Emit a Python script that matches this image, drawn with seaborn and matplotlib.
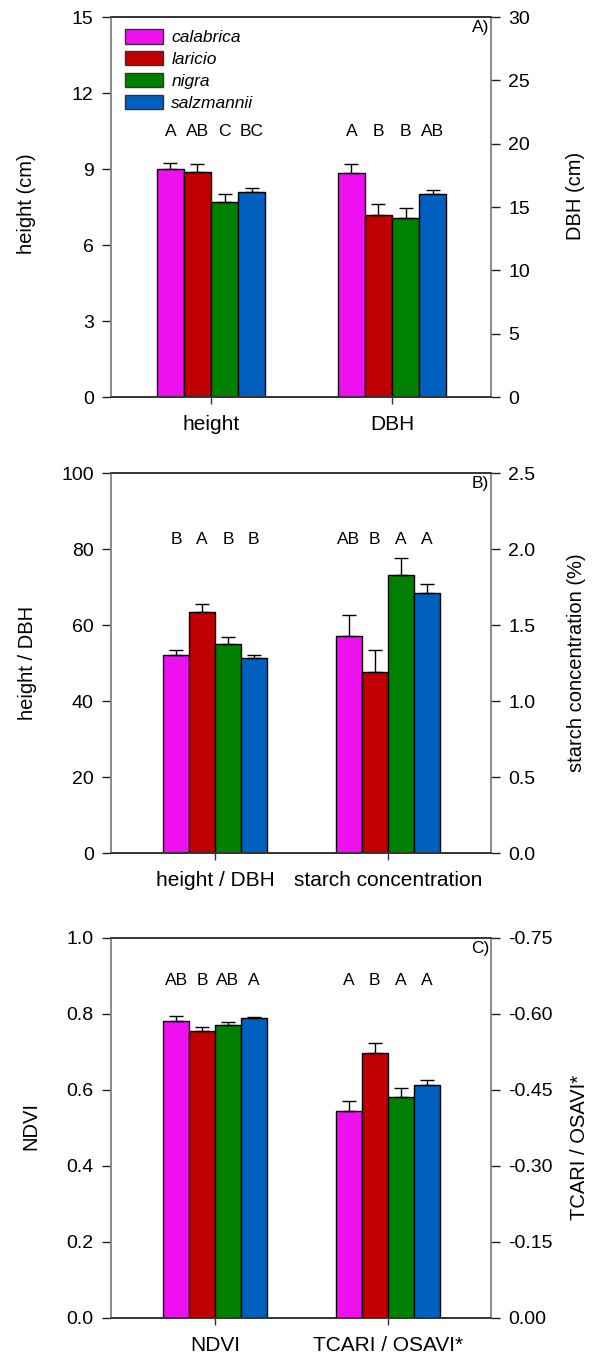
import numpy as np
import pandas as pd
import matplotlib
matplotlib.use("Agg")
import matplotlib.pyplot as plt
from matplotlib.patches import Patch
from matplotlib.ticker import FixedLocator, FormatStrFormatter
import seaborn as sns

# ---------------- data ----------------
species = ["calabrica", "laricio", "nigra", "salzmannii"]
colors = ["#EE10EE", "#C00000", "#008000", "#0060C0"]

height_mean = [9.00, 8.88, 7.71, 8.11]
height_se = [0.22, 0.33, 0.32, 0.13]
dbh_mean = [17.7, 14.4, 14.1, 16.0]
dbh_se = [0.66, 0.84, 0.84, 0.31]
height_letters = ["A", "AB", "C", "BC"]
dbh_letters = ["A", "B", "B", "AB"]

hd_mean = [52.0, 63.3, 55.1, 51.4]
hd_se = [1.5, 2.1, 1.8, 0.8]
starch_mean = [1.43, 1.19, 1.83, 1.71]
starch_se = [0.136, 0.145, 0.109, 0.057]
hd_letters = ["B", "A", "B", "B"]
starch_letters = ["AB", "B", "A", "A"]

ndvi_mean = [0.782, 0.754, 0.771, 0.789]
ndvi_se = [0.012, 0.011, 0.008, 0.004]
tcari_mean = [-0.408, -0.523, -0.436, -0.460]
tcari_se = [0.021, 0.019, 0.017, 0.010]
ndvi_letters = ["AB", "B", "AB", "A"]
tcari_letters = ["A", "B", "A", "A"]

# ---------------- style ----------------
sns.set_theme(style="ticks")
plt.rcParams["font.family"] = ["Liberation Sans", "DejaVu Sans"]
plt.rcParams["axes.unicode_minus"] = False
for key in ("text.color", "axes.labelcolor", "xtick.color", "ytick.color"):
    plt.rcParams[key] = "black"

XFS = 15      # category labels
YFS = 14      # numeric tick labels
LFS = 14.5    # axis titles
fig = plt.figure(figsize=(5.93, 13.58), dpi=100)
W, H = 593, 1358


def add_ax(left, top, right, bottom):
    return fig.add_axes([left / W, 1 - bottom / H, (right - left) / W, (bottom - top) / H])


panels = [
    dict(box=(111, 17, 491, 397), xlim=(-0.553, 1.547),
         groups=["height", "DBH"],
         left=(height_mean, height_se, height_letters), right=(dbh_mean, dbh_se, dbh_letters),
         lylim=(0, 15), lticks=[0, 3, 6, 9, 12, 15], lfmt="%d",
         llabel="height (cm)", lpos=(-0.222, 0.51),
         rylim=(0, 30), rticks=[0, 5, 10, 15, 20, 25, 30], rfmt="%d",
         rlabel="DBH (cm)", rpos=(1.222, 0.53),
         tag="A)", letter_y=0.700, legend=True),
    dict(box=(111, 473, 491, 853), xlim=(-0.602, 1.598),
         groups=["height / DBH", "starch concentration"],
         left=(hd_mean, hd_se, hd_letters), right=(starch_mean, starch_se, starch_letters),
         lylim=(0, 100), lticks=[0, 20, 40, 60, 80, 100], lfmt="%d",
         llabel="height / DBH", lpos=(-0.219, 0.5),
         rylim=(0, 2.5), rticks=[0, 0.5, 1.0, 1.5, 2.0, 2.5], rfmt="%.1f",
         rlabel="starch concentration (%)", rpos=(1.226, 0.5),
         tag="B)", letter_y=0.824, legend=False),
    dict(box=(111, 938, 491, 1318), xlim=(-0.602, 1.598),
         groups=["NDVI", "TCARI / OSAVI*"],
         left=(ndvi_mean, ndvi_se, ndvi_letters), right=(tcari_mean, tcari_se, tcari_letters),
         lylim=(0, 1.0), lticks=[0, 0.2, 0.4, 0.6, 0.8, 1.0], lfmt="%.1f",
         llabel="NDVI", lpos=(-0.212, 0.506),
         rylim=(0, -0.75), rticks=[0, -0.15, -0.30, -0.45, -0.60, -0.75], rfmt="%.2f",
         rlabel="TCARI / OSAVI*", rpos=(1.232, 0.45),
         tag="C)", letter_y=0.887, legend=False),
]


def draw_group(ax, group, order, mean, se, letters, letter_y):
    df = pd.DataFrame({"var": group, "species": species, "value": mean})
    sns.barplot(data=df, x="var", y="value", hue="species", order=order,
                hue_order=species, palette=colors, width=0.6, errorbar=None,
                edgecolor="black", linewidth=1.0, saturation=1, legend=False, ax=ax)
    trans = matplotlib.transforms.blended_transform_factory(ax.transData, ax.transAxes)
    for cont, m, e, lab in zip(ax.containers, mean, se, letters):
        bar = cont[0]
        xc = bar.get_x() + bar.get_width() / 2
        yerr = [[0], [e]] if m >= 0 else [[e], [0]]
        ax.errorbar([xc], [m], yerr=yerr, fmt="none", ecolor="black",
                    elinewidth=1.0, capsize=5.0, capthick=1.0, zorder=1)
        ax.text(xc, letter_y, lab, transform=trans, ha="center", va="center",
                fontsize=12.5, color="black")


def style_axis(ax):
    for side in ("left", "right"):
        ax.spines[side].set_color("#8a8a8a")
        ax.spines[side].set_linewidth(1.2)
    for side in ("top", "bottom"):
        ax.spines[side].set_color("#333333")
        ax.spines[side].set_linewidth(1.2)
        ax.spines[side].set_visible(True)
    ax.set_facecolor("none")


for p in panels:
    ax = add_ax(*p["box"])
    ax2 = ax.twinx()
    order = p["groups"]
    lm, ls, ll = p["left"]
    rm, rs, rl = p["right"]
    draw_group(ax, order[0], order, lm, ls, ll, p["letter_y"])
    draw_group(ax2, order[1], order, rm, rs, rl, p["letter_y"])

    for a in (ax, ax2):
        a.set_xlim(*p["xlim"])
        style_axis(a)
        a.set_xlabel("")

    ax.set_ylim(*p["lylim"])
    ax.yaxis.set_major_locator(FixedLocator(p["lticks"]))
    ax.yaxis.set_major_formatter(FormatStrFormatter(p["lfmt"]))
    ax.set_ylabel(p["llabel"], fontsize=LFS, va="center", ha="center")
    ax.yaxis.set_label_coords(*p["lpos"])

    ax2.set_ylim(*p["rylim"])
    ax2.yaxis.set_major_locator(FixedLocator(p["rticks"]))
    ax2.yaxis.set_major_formatter(FormatStrFormatter(p["rfmt"]))
    ax2.set_ylabel(p["rlabel"], fontsize=LFS, va="center", ha="center")
    ax2.yaxis.set_label_coords(*p["rpos"])

    ax.set_xticks([0, 1])
    ax.set_xticklabels(order)
    ax.tick_params(axis="x", direction="out", length=5, width=1, color="#333333",
                   labelsize=XFS, pad=8)
    ax.tick_params(axis="y", direction="out", length=6.5, width=1, color="#222222",
                   labelsize=YFS, pad=6)
    ax2.tick_params(axis="x", bottom=False, labelbottom=False)
    ax2.tick_params(axis="y", direction="out", length=6.5, width=1, color="#222222",
                    labelsize=YFS, pad=6)

    ax2.text(0.995, 0.993, p["tag"], transform=ax2.transAxes, ha="right", va="top",
             fontsize=12.5)

    if p["legend"]:
        handles = [Patch(facecolor=c, edgecolor="#333333", linewidth=1.0) for c in colors]
        ax2.legend(handles, species, loc="upper left", bbox_to_anchor=(0.038, 0.968),
                   frameon=False, borderaxespad=0, borderpad=0,
                   handlelength=2.15, handleheight=0.9, handletextpad=0.5,
                   labelspacing=0.33, prop={"size": 12.5, "style": "italic"})

fig.savefig("out.png", dpi=100)
